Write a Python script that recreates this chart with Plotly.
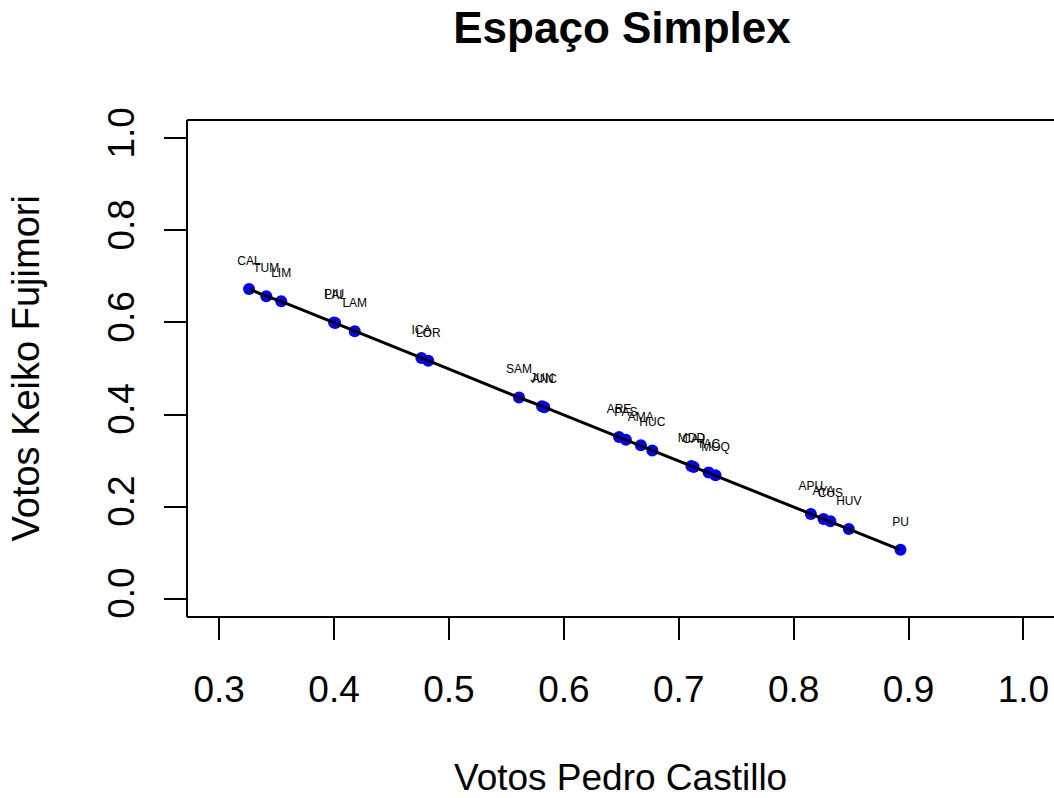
import plotly.graph_objects as go

# Region codes and vote shares (Castillo on x, Fujimori on y)
regions = ["CAL", "TUM", "LIM", "PIU", "LAL", "LAM", "ICA", "LOR", "SAM", "JUN", "ANC",
           "ARE", "PAS", "AMA", "HUC", "MDD", "CAJ", "TAC", "MOQ",
           "APU", "AYA", "CUS", "HUV", "PU"]
castillo = [0.326, 0.341, 0.354, 0.400, 0.401, 0.418, 0.476, 0.482, 0.561, 0.581, 0.583,
            0.648, 0.654, 0.667, 0.677, 0.711, 0.713, 0.726, 0.732,
            0.815, 0.826, 0.832, 0.848, 0.893]
keiko = [0.673, 0.657, 0.646, 0.600, 0.599, 0.581, 0.523, 0.517, 0.437, 0.418, 0.416,
         0.351, 0.345, 0.333, 0.322, 0.288, 0.286, 0.274, 0.268,
         0.184, 0.173, 0.168, 0.151, 0.106]

x_ticks = [0.3, 0.4, 0.5, 0.6, 0.7, 0.8, 0.9, 1.0]
y_ticks = [0.0, 0.2, 0.4, 0.6, 0.8, 1.0]

FONT = "Liberation Sans, Arial, Helvetica, sans-serif"
LABEL_LIFT = 0.059  # region labels sit just above their point

order = sorted(range(len(castillo)), key=lambda i: castillo[i])

fig = go.Figure()
fig.add_trace(go.Scatter(
    x=castillo, y=keiko, mode="markers",
    marker=dict(size=12, color="#0000FF", line=dict(width=0)),
    hoverinfo="skip", showlegend=False))
fig.add_trace(go.Scatter(
    x=[castillo[i] for i in order], y=[keiko[i] for i in order], mode="lines",
    line=dict(color="black", width=3), hoverinfo="skip", showlegend=False))
fig.add_trace(go.Scatter(
    x=castillo, y=[k + LABEL_LIFT for k in keiko], mode="text", text=regions,
    textposition="middle center",
    textfont=dict(family=FONT, size=12, color="black"),
    hoverinfo="skip", showlegend=False))

axis_common = dict(
    showgrid=False, zeroline=False, ticks="outside", ticklen=22, tickwidth=2,
    tickcolor="black", tickfont=dict(family=FONT, size=37, color="black"),
    showline=False)

fig.update_xaxes(range=[0.272, 1.0266], tickvals=x_ticks,
                 ticktext=[f"{v:.1f}" for v in x_ticks], ticklabelstandoff=18,
                 **axis_common)
fig.update_yaxes(range=[-0.04, 1.04], tickvals=y_ticks,
                 ticktext=[f"{v:.1f}" for v in y_ticks], tickangle=-90,
                 ticklabelstandoff=15, **axis_common)

# Plot frame: left, top and bottom edges
frame = dict(type="line", xref="paper", yref="paper", line=dict(color="black", width=2))
fig.add_shape(x0=0, x1=0, y0=0, y1=1, **frame)
fig.add_shape(x0=0, x1=1, y0=1, y1=1, **frame)
fig.add_shape(x0=0, x1=1, y0=0, y1=0, **frame)

fig.add_annotation(text="Votos Pedro Castillo", xref="paper", yref="paper",
                   x=0.5, y=0, yshift=-183, showarrow=False,
                   font=dict(family=FONT, size=37, color="black"))
fig.add_annotation(text="Votos Keiko Fujimori", xref="paper", yref="paper",
                   x=0, y=0.5, xshift=-185, textangle=-90, showarrow=False,
                   font=dict(family=FONT, size=38, color="black"))

fig.update_layout(
    width=1054, height=798,
    margin=dict(l=187, r=0, t=120, b=181),
    paper_bgcolor="white", plot_bgcolor="white",
    title=dict(text="<b>Espaço Simplex</b>", x=(622 / 1054), xanchor="center",
               y=1 - 28 / 798, yanchor="middle",
               font=dict(family=FONT, size=44, color="black")),
)

fig.write_html("out.html")
